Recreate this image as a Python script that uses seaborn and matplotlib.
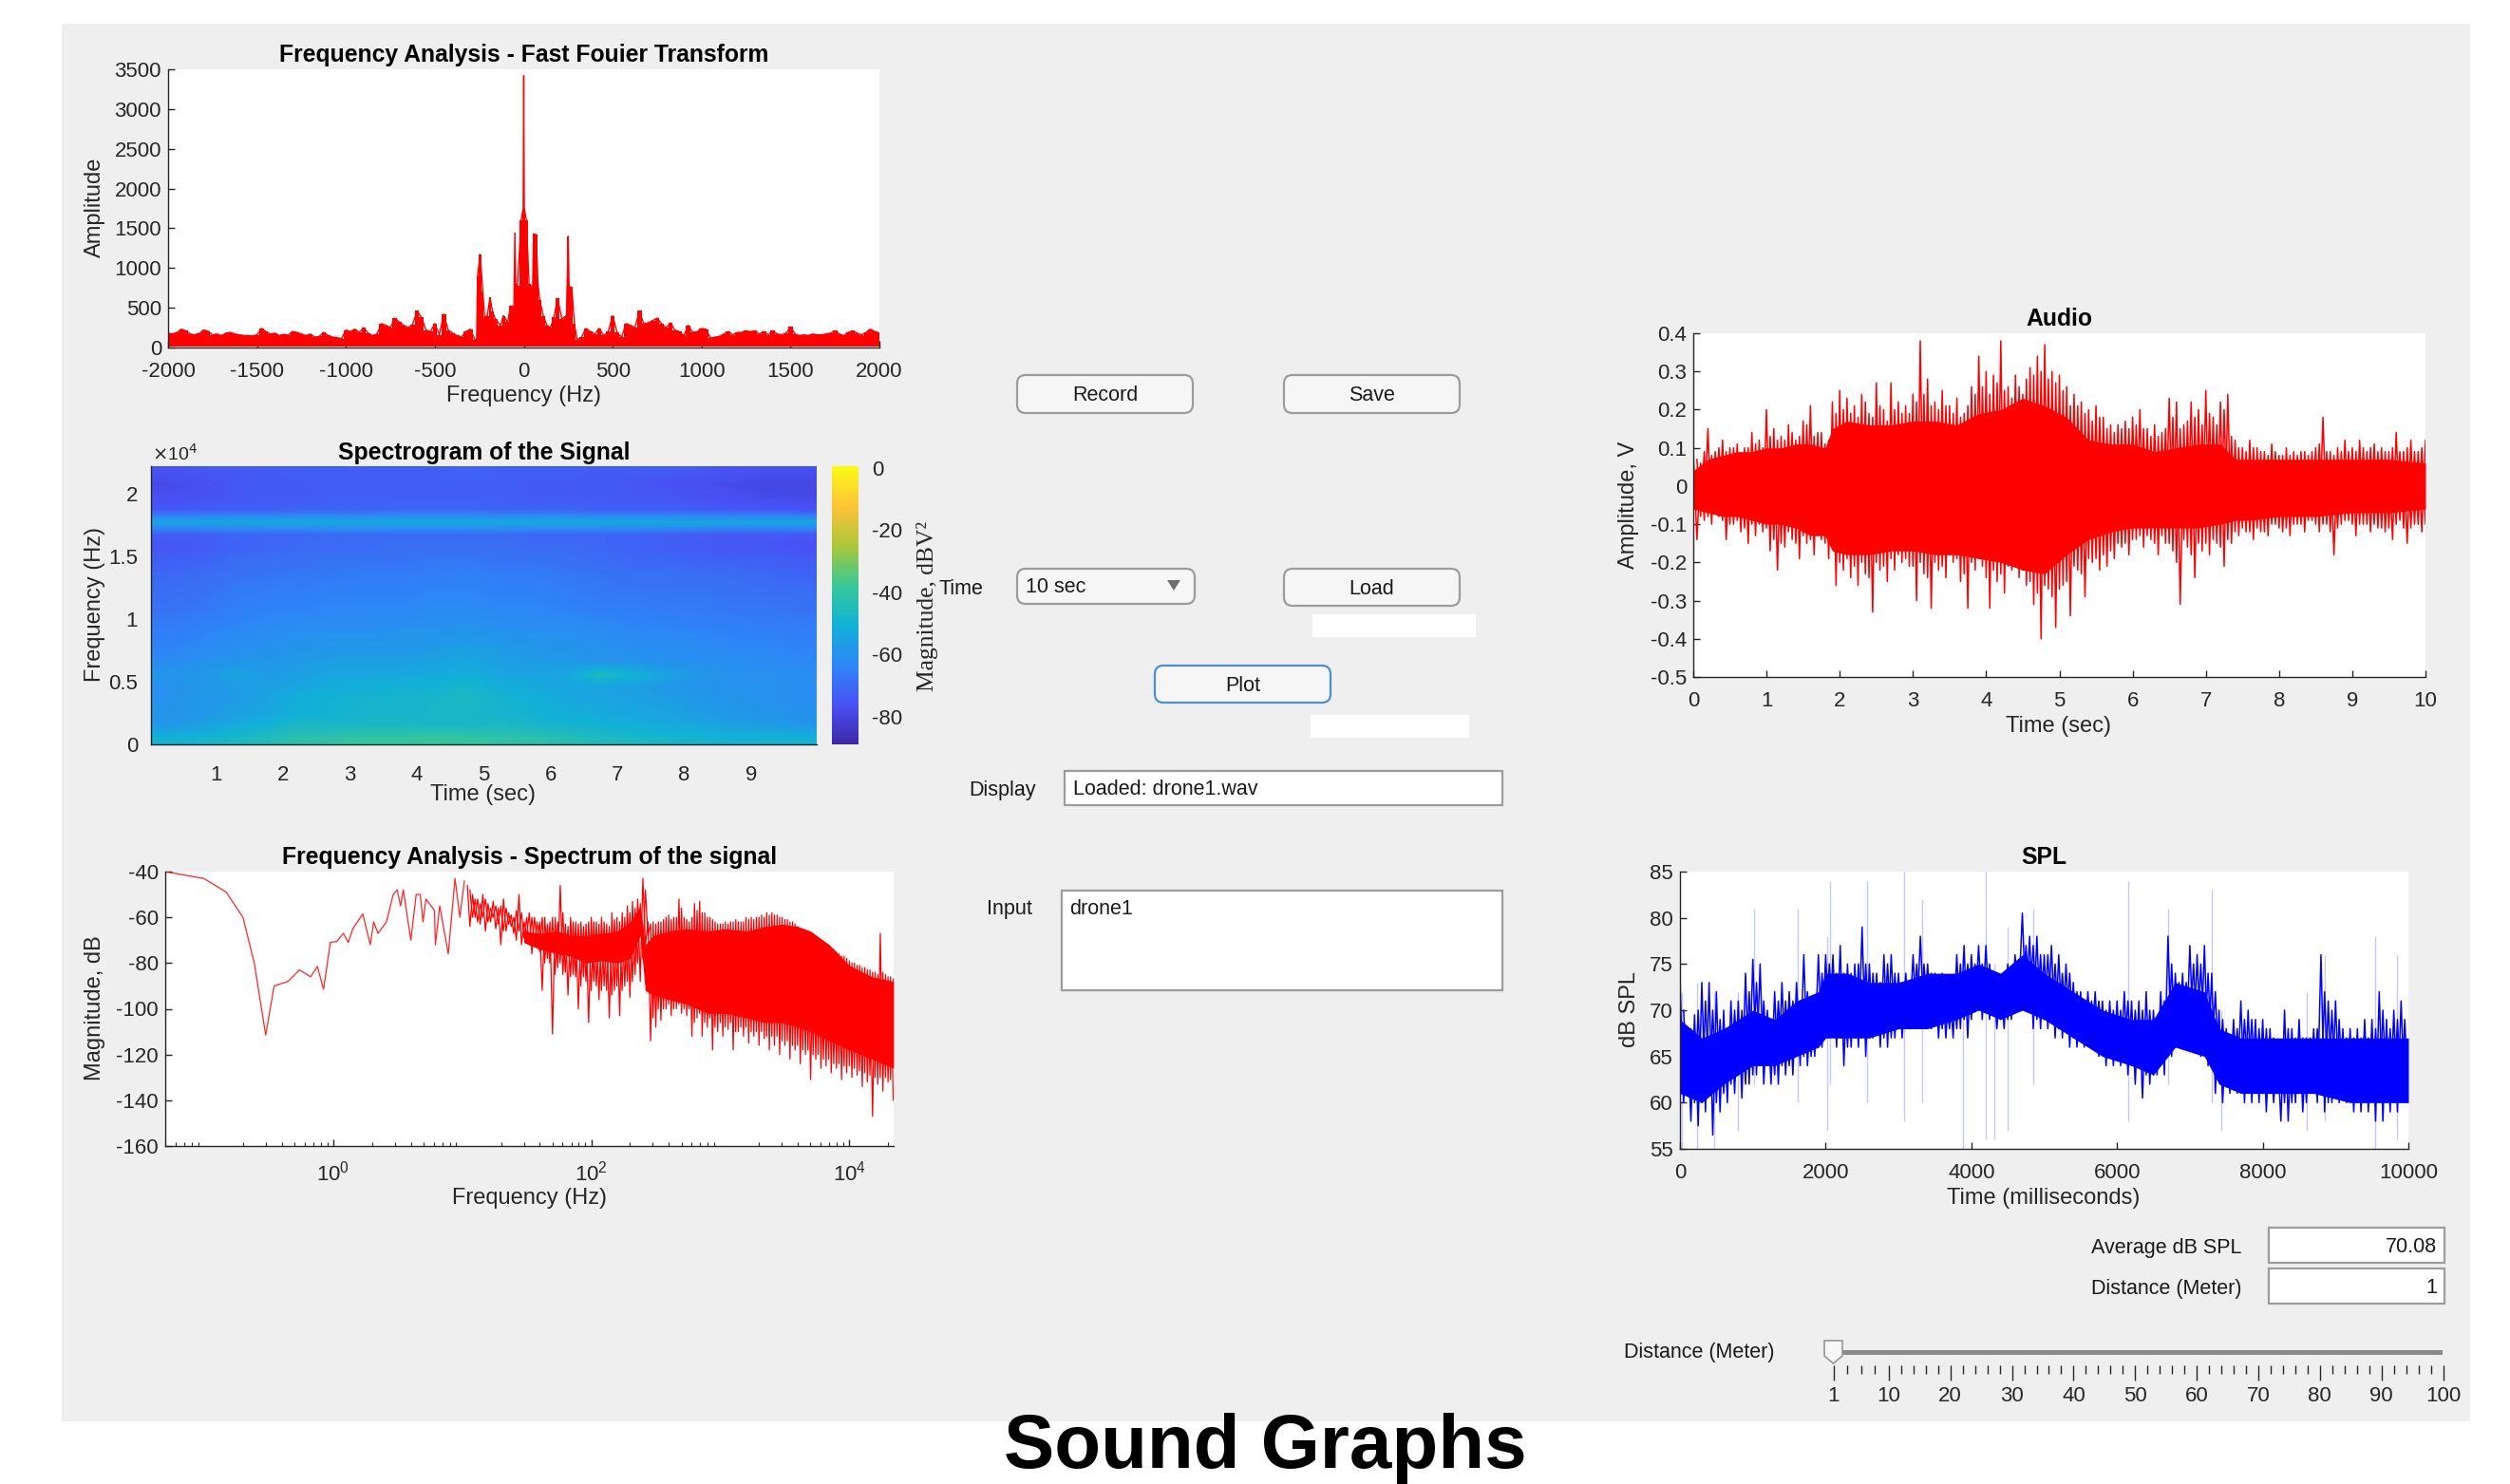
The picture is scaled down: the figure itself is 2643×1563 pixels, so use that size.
"""
Sound Graphs - recreation of a MATLAB sound analysis GUI screenshot.
All values were read off the picture by eye.
"""

import numpy as np
import matplotlib
matplotlib.use("Agg")
import matplotlib.pyplot as plt
import seaborn as sns
from matplotlib.colors import LinearSegmentedColormap
from matplotlib.patches import FancyBboxPatch, Polygon, Rectangle
from matplotlib.ticker import LogLocator, NullFormatter, FixedLocator

W, H = 2643, 1563
INK = "#262626"

# --- FFT amplitude: sides every 25 Hz, finer list around the centre
fft_side_step = 25
fft_left_start = -2000
fft_left = [180, 170, 190, 230, 210, 170, 160, 175, 220, 205,
            160, 170, 150, 180, 190, 170, 160, 150, 150, 145,
            160, 240, 200, 170, 180, 150, 165, 155, 200, 190,
            170, 150, 170, 130, 140, 190, 150, 130, 125, 110,
            220, 200, 230, 190, 250, 180, 150, 170, 300, 280,
            250, 370, 320, 280, 250, 290, 460, 380, 220, 200,
            300, 160, 420, 220, 180, 150, 130, 200, 230, 100]
fft_mid_freq = [-265, -260, -245, -230, -220, -205, -190, -175, -160, -130, -115, -90, -75, -55, -50, -45, -35, -15, -3,
                0, 3, 15, 30, 50, 55, 70, 80, 90, 110, 130, 150, 170, 190, 215, 240, 250, 255, 270, 285]
fft_mid = [100, 900, 1170, 700, 380, 400, 630, 450, 360, 280, 400, 320, 520, 520, 1440, 800, 780, 1600, 1750,
           3420, 1750, 1600, 800, 760, 1430, 1420, 800, 600, 400, 280, 250, 380, 620, 360, 400, 1400, 760, 760, 300]
fft_right_start = 300
fft_right = [100, 130, 240, 200, 170, 240, 150, 200, 400, 190,
             130, 300, 280, 250, 460, 300, 310, 340, 370, 300,
             250, 310, 220, 200, 150, 280, 190, 200, 240, 230,
             120, 130, 140, 170, 200, 160, 190, 190, 210, 200,
             210, 170, 200, 160, 210, 170, 160, 180, 260, 170,
             150, 160, 150, 170, 160, 160, 170, 180, 210, 170,
             150, 190, 210, 180, 160, 190, 230, 200, 180]

# --- spectrogram (dB), rows from 22 kHz down to 0, columns every 0.5 s
spec_rows = [
    [-76, -75, -75, -74, -73, -73, -73, -73, -73, -72, -73, -73, -73, -74, -74, -74, -75, -76, -77, -77],
    [-78, -77, -75, -74, -74, -73, -73, -73, -73, -73, -73, -74, -74, -74, -75, -76, -77, -78, -79, -79],
    [-77, -76, -75, -74, -74, -73, -73, -73, -73, -73, -73, -74, -74, -74, -75, -75, -76, -77, -78, -78],
    [-75, -74, -73, -73, -72, -72, -72, -71, -71, -71, -72, -72, -72, -73, -73, -73, -74, -75, -75, -76],
    [-54, -54, -53, -53, -53, -53, -53, -53, -53, -53, -53, -53, -53, -53, -53, -53, -53, -54, -53, -53],
    [-74, -73, -72, -71, -71, -70, -70, -70, -70, -70, -70, -71, -71, -71, -72, -73, -74, -75, -75, -75],
    [-75, -74, -72, -71, -70, -70, -70, -69, -69, -69, -69, -70, -70, -71, -72, -73, -74, -75, -75, -76],
    [-73, -72, -70, -69, -69, -68, -68, -68, -67, -67, -68, -68, -69, -70, -71, -71, -72, -72, -73, -74],
    [-71, -70, -69, -68, -67, -67, -66, -66, -66, -65, -66, -66, -67, -68, -69, -69, -70, -70, -71, -72],
    [-70, -69, -67, -66, -66, -65, -65, -65, -64, -64, -65, -65, -66, -67, -68, -68, -68, -69, -70, -70],
    [-69, -68, -66, -65, -65, -64, -64, -64, -63, -63, -64, -64, -65, -66, -66, -67, -67, -68, -68, -69],
    [-68, -67, -65, -64, -64, -63, -63, -63, -62, -62, -63, -63, -64, -65, -65, -66, -66, -67, -67, -68],
    [-66, -65, -64, -63, -62, -62, -62, -61, -61, -60, -61, -62, -62, -63, -64, -64, -65, -65, -66, -66],
    [-65, -64, -62, -61, -60, -60, -60, -59, -59, -58, -59, -60, -60, -61, -62, -63, -63, -64, -64, -65],
    [-64, -62, -61, -60, -59, -58, -58, -58, -57, -56, -57, -58, -59, -60, -61, -61, -62, -63, -63, -64],
    [-62, -60, -59, -58, -57, -56, -56, -56, -55, -54, -56, -57, -57, -59, -59, -60, -61, -61, -62, -63],
    [-59, -58, -55, -57, -56, -54, -54, -54, -53, -52, -54, -55, -54, -46, -50, -55, -58, -60, -60, -61],
    [-60, -58, -57, -56, -54, -52, -51, -50, -50, -48, -51, -53, -54, -55, -56, -58, -59, -60, -60, -61],
    [-60, -58, -57, -55, -51, -50, -49, -49, -48, -47, -49, -51, -53, -54, -55, -56, -58, -59, -60, -61],
    [-59, -58, -56, -54, -51, -50, -49, -49, -48, -48, -49, -50, -52, -53, -54, -55, -57, -58, -59, -60],
    [-58, -56, -53, -50, -47, -48, -47, -47, -47, -47, -47, -48, -49, -50, -52, -53, -54, -56, -57, -58],
    [-50, -49, -47, -45, -42, -41, -40, -40, -39, -40, -41, -42, -44, -46, -47, -48, -49, -50, -50, -50],
]
spec_time_ticks = [1, 2, 3, 4, 5, 6, 7, 8, 9]
spec_freq_ticks = [0, 0.5, 1, 1.5, 2]
spec_freq_labels = ["0", "0.5", "1", "1.5", "2"]
spec_cbar_ticks = [0, -20, -40, -60, -80]

# --- spectrum: thin line below 10 Hz, then top / bottom peaks on a log grid
line_freq = [.05, .0995, .1485, .2, .245, .3, .349, .448, .548, .669, .755, .843, .95, 1.07, 1.2, 1.31, 1.42, 1.70,
             1.94, 2.06, 2.23, 2.59, 2.92, 3.14, 3.33, 3.5, 4.0, 4.4, 4.73, 4.97, 5.24, 6.1, 6.2, 6.7, 7.8, 8.8, 9.6, 10.4]
line_db = [-40, -43, -49, -60, -80, -111.5, -90, -88, -83, -86, -81.5, -91.5, -71, -70.5, -67, -71, -65, -58.5,
           -72, -62, -67, -62, -50, -48, -55, -48, -70, -50, -50, -62, -52, -57, -72, -55, -76, -43, -60, -44]
spectrum_log_start = 1.04
spectrum_log_step = 0.04
spectrum_top = [-46, -50, -52, -50, -54, -53, -56, -52, -58, -60, -50, -62, -58, -60, -62, -60, -62, -60, -46, -63, -60,
                -62, -62, -63, -60, -62, -60, -63, -58, -60, -58, -55, -53, -52, -43, -62, -62, -62, -61, -59, -60, -52,
                -60, -62, -54, -53, -58, -60, -62, -63, -62, -62, -61, -62, -60, -60, -60, -59, -58, -58, -59, -60, -61,
                -62, -64, -66, -67, -69, -71, -72, -72, -74, -76, -77, -79, -80, -81, -82, -83, -84, -67, -85, -86]
spectrum_bot = [-64, -60, -63, -66, -62, -65, -72, -66, -64, -70, -72, -68, -76, -70, -92, -78, -111, -82, -85, -94, -85,
                -100, -86, -106, -88, -96, -90, -104, -92, -103, -90, -95, -85, -88, -72, -114, -108, -105, -100, -103,
                -100, -102, -103, -112, -104, -112, -108, -118, -110, -112, -109, -118, -110, -112, -115, -112, -116,
                -113, -118, -116, -120, -116, -122, -118, -124, -120, -131, -122, -126, -125, -128, -126, -131, -128,
                -130, -129, -134, -132, -147, -133, -136, -132, -140]
spectrum_mid_top = [-48, -52, -54, -52, -56, -55, -55, -56, -59, -57,
                    -58, -60, -60, -62, -60, -63, -60, -62, -58, -64,
                    -62, -63, -64, -62, -62, -63, -62, -64, -61, -62,
                    -60, -58, -56, -54, -48, -63, -63, -62, -60, -61,
                    -60, -56, -61, -60, -57, -58, -60, -61, -63, -63,
                    -63, -62, -62, -62, -61, -61, -60, -60, -59, -59,
                    -60, -61, -62, -63, -65, -67, -68, -70, -72, -73,
                    -74, -75, -77, -78, -80, -81, -82, -83, -84, -85,
                    -84, -86, -87]
spectrum_mid_bot = [-60, -62, -60, -62, -60, -63, -66, -63, -67, -66,
                    -69, -72, -72, -75, -80, -80, -85, -80, -84, -86,
                    -86, -90, -88, -92, -90, -92, -92, -94, -90, -92,
                    -88, -88, -80, -78, -68, -104, -100, -100, -98, -100,
                    -98, -100, -100, -106, -102, -106, -104, -108, -106, -108,
                    -106, -110, -108, -108, -110, -110, -110, -112, -112, -112,
                    -114, -114, -116, -116, -118, -118, -120, -120, -122, -122,
                    -124, -124, -125, -125, -126, -127, -128, -129, -130, -130,
                    -130, -131, -132]
core_freq = [30, 40, 55, 70, 90, 120, 160, 200, 240, 262, 300, 400, 550, 800, 1100, 1600, 2200, 3000, 4000, 5000, 7000,
             10000, 15000, 22000]
core_top = [-66, -67, -66, -68, -68, -67, -66, -62, -55, -72, -68, -66, -65, -66, -65, -66, -64, -63, -64, -66, -72,
            -81, -86, -88]
core_bot = [-71, -74, -76, -77, -80, -79, -80, -78, -68, -92, -94, -96, -98, -102, -102, -104, -106, -106, -108, -110,
            -114, -118, -122, -126]

# --- audio waveform peaks, one pair every 0.1 s, and smaller peaks in between
audio_step = 0.1
audio_top = [.09, .06, .15, .09, .12, .10, .11, .10, .14, .12,
             .20, .15, .13, .16, .12, .17, .21, .14, .11, .22,
             .25, .23, .21, .24, .19, .27, .20, .27, .22, .21,
             .24, .38, .28, .22, .25, .21, .23, .19, .26, .34,
             .30, .29, .38, .26, .29, .24, .31, .34, .37, .30,
             .29, .26, .24, .22, .20, .21, .18, .16, .16, .17,
             .18, .20, .15, .16, .14, .23, .22, .16, .22, .20,
             .25, .18, .22, .24, .12, .10, .12, .10, .09, .11,
             .08, .10, .09, .09, .08, .10, .18, .09, .10, .12,
             .10, .12, .09, .11, .10, .09, .14, .09, .12, .09, .12]
audio_bot = [-.14, -.09, -.10, -.08, -.14, -.10, -.12, -.15, -.13, -.12,
             -.17, -.22, -.16, -.14, -.19, -.15, -.18, -.14, -.19, -.26,
             -.22, -.24, -.26, -.23, -.33, -.22, -.25, -.22, -.20, -.21,
             -.30, -.23, -.32, -.22, -.24, -.20, -.25, -.32, -.22, -.21,
             -.32, -.25, -.28, -.22, -.24, -.26, -.31, -.40, -.27, -.37,
             -.26, -.34, -.22, -.29, -.20, -.22, -.21, -.19, -.16, -.18,
             -.14, -.16, -.14, -.18, -.15, -.17, -.31, -.16, -.24, -.17,
             -.18, -.15, -.21, -.15, -.13, -.12, -.14, -.12, -.13, -.10,
             -.12, -.13, -.10, -.12, -.09, -.12, -.10, -.18, -.10, -.09,
             -.13, -.10, -.12, -.11, -.12, -.14, -.09, -.15, -.10, -.12, -.10]
audio_mid_top = [.07, .09, .08, .10, .09, .10, .08, .10, .11, .10,
                 .13, .12, .12, .14, .13, .16, .13, .14, .12, .19,
                 .20, .19, .18, .22, .18, .21, .17, .20, .19, .19,
                 .22, .24, .21, .20, .21, .19, .18, .21, .24, .26,
                 .24, .27, .25, .23, .26, .28, .29, .30, .28, .27,
                 .25, .21, .21, .19, .17, .18, .15, .14, .15, .15,
                 .16, .15, .13, .13, .15, .18, .15, .17, .18, .16,
                 .19, .16, .20, .13, .10, .09, .10, .09, .08, .09,
                 .08, .08, .08, .09, .09, .11, .09, .08, .09, .09,
                 .09, .10, .10, .09, .09, .10, .09, .10, .09, .10]
audio_mid_bot = [-.08, -.08, -.07, -.09, -.10, -.09, -.11, -.10, -.10, -.11,
                 -.14, -.15, -.12, -.15, -.13, -.14, -.13, -.15, -.16, -.20,
                 -.19, -.21, -.20, -.24, -.20, -.21, -.19, -.18, -.19, -.21,
                 -.20, -.24, -.20, -.21, -.18, -.19, -.23, -.20, -.19, -.24,
                 -.22, -.23, -.21, -.20, -.22, -.25, -.28, -.26, -.29, -.27,
                 -.25, -.21, -.23, -.19, -.19, -.18, -.17, -.15, -.15, -.14,
                 -.13, -.13, -.15, -.13, -.15, -.20, -.14, -.18, -.15, -.15,
                 -.14, -.16, -.14, -.12, -.11, -.12, -.11, -.12, -.10, -.11,
                 -.11, -.10, -.10, -.09, -.10, -.10, -.12, -.11, -.09, -.10,
                 -.10, -.10, -.10, -.11, -.11, -.10, -.11, -.11, -.10, -.10]
audio_core_t = [0, .2, .4, .6, .8, 1, 1.2, 1.4, 1.6, 1.8, 1.9, 2.1, 2.4, 2.7, 3, 3.3, 3.6, 3.9, 4.2, 4.5, 4.8, 5.1, 5.4,
                5.7, 6, 6.3, 6.6, 6.9, 7.2, 7.4, 7.6, 8, 8.5, 9, 9.5, 10]
audio_core_top = [.04, .07, .08, .09, .09, .10, .10, .11, .11, .10, .15, .17, .16, .16, .17, .17, .16, .19, .20, .23, .21,
                  .18, .12, .11, .11, .09, .10, .11, .11, .07, .07, .07, .07, .07, .07, .06]
audio_core_bot = [-.06, -.07, -.08, -.08, -.09, -.10, -.10, -.11, -.13, -.13, -.17, -.18, -.18, -.17, -.17, -.18, -.18,
                  -.19, -.20, -.22, -.23, -.18, -.14, -.12, -.11, -.11, -.11, -.11, -.10, -.09, -.09, -.08, -.08, -.07,
                  -.07, -.06]

# --- SPL trace peaks, one pair every 100 ms, and smaller peaks in between
spl_step = 100
spl_top = [73.5, 68, 69.5, 73, 73, 72, 70, 71, 71, 74,
           75.5, 75, 70, 72, 73, 72, 73, 76, 71, 76,
           76, 76, 77, 75, 75, 79, 75, 74, 76, 76,
           74, 74, 76, 78, 75, 74, 74, 73, 76, 77,
           76, 77, 77, 74, 73, 75, 76, 80.5, 78, 78,
           76, 77, 76, 75, 73, 72, 72, 72, 71, 71,
           71, 72, 71, 71, 72, 70, 72, 78, 74, 74,
           77, 76, 77, 74, 70, 68, 69, 71, 70, 69,
           69, 68, 66, 70, 68, 69, 67, 68, 76, 71,
           71, 68, 68, 68, 69, 69, 72, 69, 70, 71, 65]
spl_bot = [60, 58, 57.5, 59, 56.5, 59, 60, 61, 60.5, 62,
           63, 62, 62, 62, 63, 63, 64, 64, 65, 66,
           67, 66, 64, 66, 66, 65, 67, 66, 66, 67,
           67, 68, 68, 69, 68, 67, 67, 67, 68, 67,
           70, 69, 69, 68, 68, 69, 71, 70, 68, 68,
           68, 67, 67, 66, 66, 66, 66, 65, 64, 64,
           64, 63, 62, 60.5, 62, 63, 63, 65, 66, 66,
           66, 65, 64, 61, 60, 61, 61, 60, 60, 60,
           59, 60, 58, 58, 60, 59, 61, 60, 59, 60,
           60, 60, 59, 59, 59, 58, 58, 59, 59, 60, 58]
spl_mid_top = [70, 68, 70, 71, 70, 69, 68, 70, 70, 72,
               73, 71, 69, 71, 71, 71, 71, 72, 71, 74,
               75, 74, 74, 74, 75, 75, 74, 73, 75, 74,
               73, 73, 75, 75, 74, 73, 73, 73, 75, 75,
               75, 75, 75, 73, 73, 74, 75, 77, 77, 76,
               76, 75, 74, 74, 72, 71, 71, 71, 70, 70,
               70, 71, 70, 70, 70, 69, 71, 75, 73, 73,
               75, 75, 74, 72, 69, 67, 68, 69, 69, 68,
               68, 67, 66, 68, 67, 67, 67, 68, 72, 70,
               69, 67, 67, 67, 67, 68, 70, 68, 69, 69]
spl_mid_bot = [62, 60, 60, 61, 60, 61, 62, 63, 62, 63,
               64, 64, 63, 64, 64, 65, 65, 65, 66, 67,
               68, 67, 66, 67, 67, 67, 68, 67, 67, 68,
               68, 69, 69, 69, 69, 68, 68, 68, 69, 69,
               71, 70, 70, 69, 69, 70, 71, 71, 69, 69,
               69, 68, 68, 67, 67, 67, 67, 66, 65, 65,
               65, 64, 64, 63, 63, 64, 65, 66, 67, 67,
               67, 66, 65, 63, 62, 62, 62, 62, 61, 61,
               61, 61, 60, 60, 61, 60, 62, 61, 60, 61,
               61, 61, 60, 60, 60, 60, 60, 60, 60, 60]
spl_core_t = [0, 300, 600, 1000, 1300, 1600, 1900, 2000, 2300, 2600, 3000, 3400, 3800, 4100, 4400, 4700, 5000, 5400,
              5800, 6200, 6500, 6800, 7200, 7400, 7700, 8200, 8700, 9200, 9700, 10000]
spl_core_top = [69, 67, 68, 70, 69, 71, 72, 74, 74, 73, 73, 74, 74, 75, 74, 76, 74, 72, 70, 69, 69, 73, 72, 68, 67, 67,
                67, 67, 67, 67]
spl_core_bot = [61, 60, 62, 64, 64, 65, 66, 67, 67, 67, 68, 68, 69, 70, 69, 70, 69, 67, 65, 64, 63, 66, 65, 62, 61, 61,
                61, 60, 60, 60]
# faint outliers that stick out of the trace
spl_out_t = [30, 230, 470, 800, 1020, 1620, 2020, 2060, 2570, 3080, 3320, 3880, 4200, 4310, 4500, 4850, 6150, 6700,
             7300, 7430, 8600, 8850, 9550, 9850]
spl_out_low = [55, 55, 55, 57, 62, 60, 57, 62, 60, 58, 60, 55, 56, 56, 57, 62, 58, 62, 60, 57, 57, 58, 55, 56]
spl_out_high = [72, 73, 72, 72, 81, 81, 78, 84, 84, 85, 82, 76, 85, 75, 79, 81, 84, 81, 83, 70, 72, 76, 78, 76]

# --- slider
slider_labels = [1, 10, 20, 30, 40, 50, 60, 70, 80, 90, 100]
slider_minor = [3.25, 5.5, 7.75] + [v for m in slider_labels[1:-1] for v in (m + 2, m + 4, m + 6, m + 8)]

# parula anchors, seaborn/matplotlib have no such map
parula = LinearSegmentedColormap.from_list("parula", [
    (0.2422, 0.1504, 0.6603), (0.2810, 0.3228, 0.9579), (0.1786, 0.5289, 0.9682), (0.0689, 0.6948, 0.8394),
    (0.2161, 0.7843, 0.5923), (0.6720, 0.7793, 0.2227), (0.9970, 0.7659, 0.2199), (0.9769, 0.9839, 0.0805)])

sns.set_theme(style="white", rc={"axes.edgecolor": INK, "axes.linewidth": 1.0, "text.color": INK,
                                 "xtick.color": INK, "ytick.color": INK, "axes.labelcolor": INK,
                                 "xtick.direction": "in", "ytick.direction": "in",
                                 "xtick.bottom": True, "ytick.left": True, "axes.unicode_minus": False})
plt.rcParams["font.family"] = ["Liberation Sans", "DejaVu Sans"]

fig = plt.figure(figsize=(W / 100, H / 100), dpi=100, facecolor="white")


def add_ax(left, top, right, bottom):
    # axes from pixel box of the screenshot
    return fig.add_axes([left / W, 1 - bottom / H, (right - left) / W, (bottom - top) / H], facecolor="white")


def dress(ax, box, title, title_y, xlabel, xlabel_xy, ylabel, ylabel_xy):
    left, top, right, bottom = box
    ax.set_title(title, fontsize=17.8, fontweight="bold", color="black", pad=0,
                 y=(bottom - title_y) / (bottom - top), va="center")
    ax.set_xlabel(xlabel, fontsize=17)
    ax.set_ylabel(ylabel, fontsize=17)
    ax.xaxis.set_label_coords((xlabel_xy[0] - left) / (right - left), (bottom - xlabel_xy[1]) / (bottom - top))
    ax.yaxis.set_label_coords((ylabel_xy[0] - left) / (right - left), (bottom - ylabel_xy[1]) / (bottom - top))
    ax.xaxis.label.set_va("center")
    ax.yaxis.label.set_va("center")
    ax.tick_params(axis="both", labelsize=16, length=5, width=1)
    ax.tick_params(axis="x", pad=11)
    ax.tick_params(axis="y", pad=5)
    sns.despine(ax=ax)


def waveform(x, step, top, bot):
    # zigzag between the upper and lower peaks, like the raw trace
    xs = np.column_stack((x, np.asarray(x) + step / 2)).ravel()
    ys = np.column_stack((top, bot)).ravel()
    return xs, ys


def trace(ax, xs, ys, color, lw):
    sns.lineplot(x=xs, y=ys, estimator=None, sort=False, color=color, lw=lw, ax=ax)


# background panel and the GUI widgets live on a pixel-coordinate axes
ui = fig.add_axes([0, 0, 1, 1], zorder=-1)
ui.set_xlim(0, W)
ui.set_ylim(H, 0)
ui.axis("off")
ui.add_patch(Rectangle((65, 25), 2536, 1472, fc="#EFEFEF", ec="none"))


def button(x0, y0, x1, y1, label=None, edge="#9C9C9C", align="center"):
    ui.add_patch(FancyBboxPatch((x0, y0), x1 - x0, y1 - y0, boxstyle="round,pad=0,rounding_size=9",
                                fc="#F6F6F6", ec=edge, lw=1.6))
    if label:
        tx = (x0 + x1) / 2 if align == "center" else x0 + 9
        ui.text(tx, (y0 + y1) / 2 + 1.5, label, ha=align, va="center", fontsize=15.5, color="#1A1A1A")


def field(x0, y0, x1, y1, edge="#9C9C9C"):
    ui.add_patch(Rectangle((x0, y0), x1 - x0, y1 - y0, fc="white", ec=edge, lw=1.6))


def ui_text(x, y, s, ha="center", size=15.5):
    ui.text(x, y + 1.5, s, ha=ha, va="center", fontsize=size, color="#1A1A1A")


button(1071, 395, 1256, 435, "Record")
button(1352, 395, 1537, 435, "Save")
button(1071, 599, 1258, 636, "10 sec", align="left")
ui.add_patch(Polygon([(1229, 611), (1243, 611), (1236, 622)], fc="#6E6E6E", ec="none"))
button(1352, 599, 1537, 638, "Load")
ui.add_patch(Rectangle((1382, 647), 172, 24, fc="white", ec="none"))
button(1216, 701, 1401, 740, "Plot", edge="#4A90D0")
ui.add_patch(Rectangle((1380, 753), 167, 24, fc="white", ec="none"))
ui_text(1012, 619, "Time")
ui_text(1055, 831, "Display")
field(1121, 812, 1582, 848)
ui_text(1130, 830, "Loaded: drone1.wav", ha="left")
ui_text(1063, 956, "Input")
field(1118, 938, 1582, 1043)
ui_text(1126, 956, "drone1", ha="left")
ui_text(2361, 1313, "Average dB SPL", ha="right")
field(2389, 1293, 2574, 1330)
ui_text(2566, 1312, "70.08", ha="right")
ui_text(2361, 1356, "Distance (Meter)", ha="right")
field(2389, 1336, 2574, 1373)
ui_text(2566, 1355, "1", ha="right")
ui_text(1710, 1423, "Distance (Meter)", ha="left")
ui.add_patch(Rectangle((1930, 1421.5), 642, 5, fc="#8A8A8A", ec="none"))
ui.add_patch(Polygon([(1921, 1412), (1940, 1412), (1940, 1428), (1930.5, 1436), (1921, 1428)],
                     fc="#F7F7F7", ec="#9C9C9C", lw=1.3))
# the reference cuts the descender at the image edge, here it stays just inside
fig.text(1332 / W, 1 - 1546 / H, "Sound Graphs", ha="center", va="baseline", fontsize=57.5, fontweight="bold", color="black")

# 1. FFT
box = (177, 73, 926, 366)
ax = add_ax(*box)
fft_freq = np.concatenate((fft_left_start + fft_side_step * np.arange(len(fft_left)), fft_mid_freq,
                           fft_right_start + fft_side_step * np.arange(len(fft_right))))
fft_amp = np.concatenate((fft_left, fft_mid, fft_right))
ax.fill_between(fft_freq, 10, fft_amp, color="red", lw=0, step="mid")
trace(ax, fft_freq, fft_amp, "red", 1)
ax.set_xlim(-2000, 2000)
ax.set_ylim(0, 3500)
ax.set_xticks(np.arange(-2000, 2001, 500))
ax.set_yticks(np.arange(0, 3501, 500))
dress(ax, box, "Frequency Analysis - Fast Fouier Transform", 58, "Frequency (Hz)", (551, 417), "Amplitude", (100, 218))

# 2. spectrogram
box = (159, 491, 860, 784)
ax = add_ax(*box)
cax = add_ax(876, 491, 904, 784)
spec = np.array(spec_rows, dtype=float)
sns.heatmap(spec, ax=ax, cbar_ax=cax, cmap=parula, vmin=-89, vmax=0.5, xticklabels=False, yticklabels=False)
n_rows, n_cols = spec.shape
# the original is a fine-grained image, so show the same matrix without hard cell edges
ax.collections[0].set_visible(False)
ax.imshow(spec, cmap=parula, vmin=-89, vmax=0.5, extent=(0, n_cols, n_rows, 0), aspect="auto", interpolation="bilinear")
time_span, freq_top = 9.96, 2.22
ax.set_xticks([(t - 0.02) / time_span * n_cols for t in spec_time_ticks])
ax.set_xticklabels(spec_time_ticks)
ax.set_yticks([(1 - f / freq_top) * n_rows for f in spec_freq_ticks])
ax.set_yticklabels(spec_freq_labels, rotation=0)
dress(ax, box, "Spectrogram of the Signal", 477, "Time (sec)", (509, 837), "Frequency (Hz)", (100, 637))
ax.tick_params(axis="both", length=0)
ax.tick_params(axis="y", pad=10)
ax.tick_params(axis="x", pad=16)
fig.text(160 / W, 1 - 478 / H, r"$\times$10$^{4}$", fontsize=14, va="center", ha="left", color=INK)
cax.set_yticks(spec_cbar_ticks)
cax.tick_params(axis="y", labelsize=16, direction="in", length=5, pad=10, right=True, left=False)
for side in cax.spines.values():
    side.set_visible(False)
fig.text(976 / W, 1 - 638 / H, "Magnitude, dBV\u00b2", rotation=90, ha="center", va="center", fontsize=18.4,
         family=["Liberation Serif"], color=INK)

# 3. spectrum
box = (174, 918, 941, 1207)
ax = add_ax(*box)
spectrum_freq = 10 ** (spectrum_log_start + spectrum_log_step * np.arange(len(spectrum_top)))
ax.set_xscale("log")
ax.fill_between(core_freq, core_bot, core_top, color="red", lw=0)
sns.lineplot(x=line_freq, y=line_db, estimator=None, sort=False, color="red", lw=0.9, alpha=0.85, ax=ax)
half = spectrum_freq * (10 ** (spectrum_log_step / 2) - 1)
xs, ys = waveform(spectrum_freq, 2 * half, spectrum_top, spectrum_bot)
trace(ax, xs, ys, "red", 0.9)
xs, ys = waveform(spectrum_freq + half, 2 * half, spectrum_mid_top, spectrum_mid_bot)
trace(ax, xs, ys, "red", 0.9)
ax.set_xlim(0.05, 22050)
ax.set_ylim(-160, -40)
ax.set_yticks(np.arange(-160, -39, 20))
ax.xaxis.set_major_locator(FixedLocator([1, 100, 10000]))
ax.xaxis.set_minor_locator(LogLocator(base=10, subs=np.arange(2, 10), numticks=12))
ax.xaxis.set_minor_formatter(NullFormatter())
dress(ax, box, "Frequency Analysis - Spectrum of the signal", 903, "Frequency (Hz)", (557, 1262), "Magnitude, dB", (100, 1062))
ax.tick_params(axis="x", which="minor", length=3, width=0.8, bottom=True)

# 4. audio
box = (1783, 351, 2554, 713)
ax = add_ax(*box)
audio_t = audio_step * np.arange(len(audio_top))
audio_mid_t = audio_step / 2 + audio_step * np.arange(len(audio_mid_top))
ax.fill_between(audio_core_t, audio_core_bot, audio_core_top, color="red", lw=0)
xs, ys = waveform(audio_t, audio_step, audio_top, audio_bot)
trace(ax, xs, ys, "red", 1.1)
xs, ys = waveform(audio_mid_t, audio_step, audio_mid_top, audio_mid_bot)
trace(ax, xs, ys, "red", 1.1)
ax.set_xlim(0, 10)
ax.set_ylim(-0.5, 0.4)
ax.set_xticks(np.arange(0, 11))
ax.set_yticks(np.round(np.arange(-0.5, 0.41, 0.1), 1))
ax.set_yticklabels(["-0.5", "-0.4", "-0.3", "-0.2", "-0.1", "0", "0.1", "0.2", "0.3", "0.4"])
dress(ax, box, "Audio", 336, "Time (sec)", (2168, 765), "Amplitude, V", (1715, 532))

# 5. SPL
box = (1769, 918, 2536, 1210)
ax = add_ax(*box)
spl_t = spl_step * np.arange(len(spl_top))
spl_mid_t = spl_step / 2 + spl_step * np.arange(len(spl_mid_top))
ax.vlines(spl_out_t, spl_out_low, spl_out_high, color="blue", lw=1, alpha=0.22)
ax.fill_between(spl_core_t, spl_core_bot, spl_core_top, color="blue", lw=0)
xs, ys = waveform(spl_t, spl_step, spl_top, spl_bot)
trace(ax, xs, ys, "blue", 1.1)
xs, ys = waveform(spl_mid_t, spl_step, spl_mid_top, spl_mid_bot)
trace(ax, xs, ys, "blue", 1.1)
ax.set_xlim(0, 10000)
ax.set_ylim(55, 85)
ax.set_xticks(np.arange(0, 10001, 2000))
ax.set_yticks(np.arange(55, 86, 5))
dress(ax, box, "SPL", 903, "Time (milliseconds)", (2152, 1262), "dB SPL", (1716, 1063))

# slider scale
slider = add_ax(1930.5, 1428, 2572.5, 1438)
slider.patch.set_visible(False)
slider.set_xlim(1, 100)
slider.set_yticks([])
slider.set_xticks(slider_labels)
slider.set_xticks(slider_minor, minor=True)
slider.tick_params(axis="x", which="major", direction="out", length=11.5, width=1, labelsize=16, pad=4)
slider.tick_params(axis="x", which="minor", direction="out", length=6.5, width=1, bottom=True)
for side in slider.spines.values():
    side.set_visible(False)

fig.savefig("out.png", dpi=100)
